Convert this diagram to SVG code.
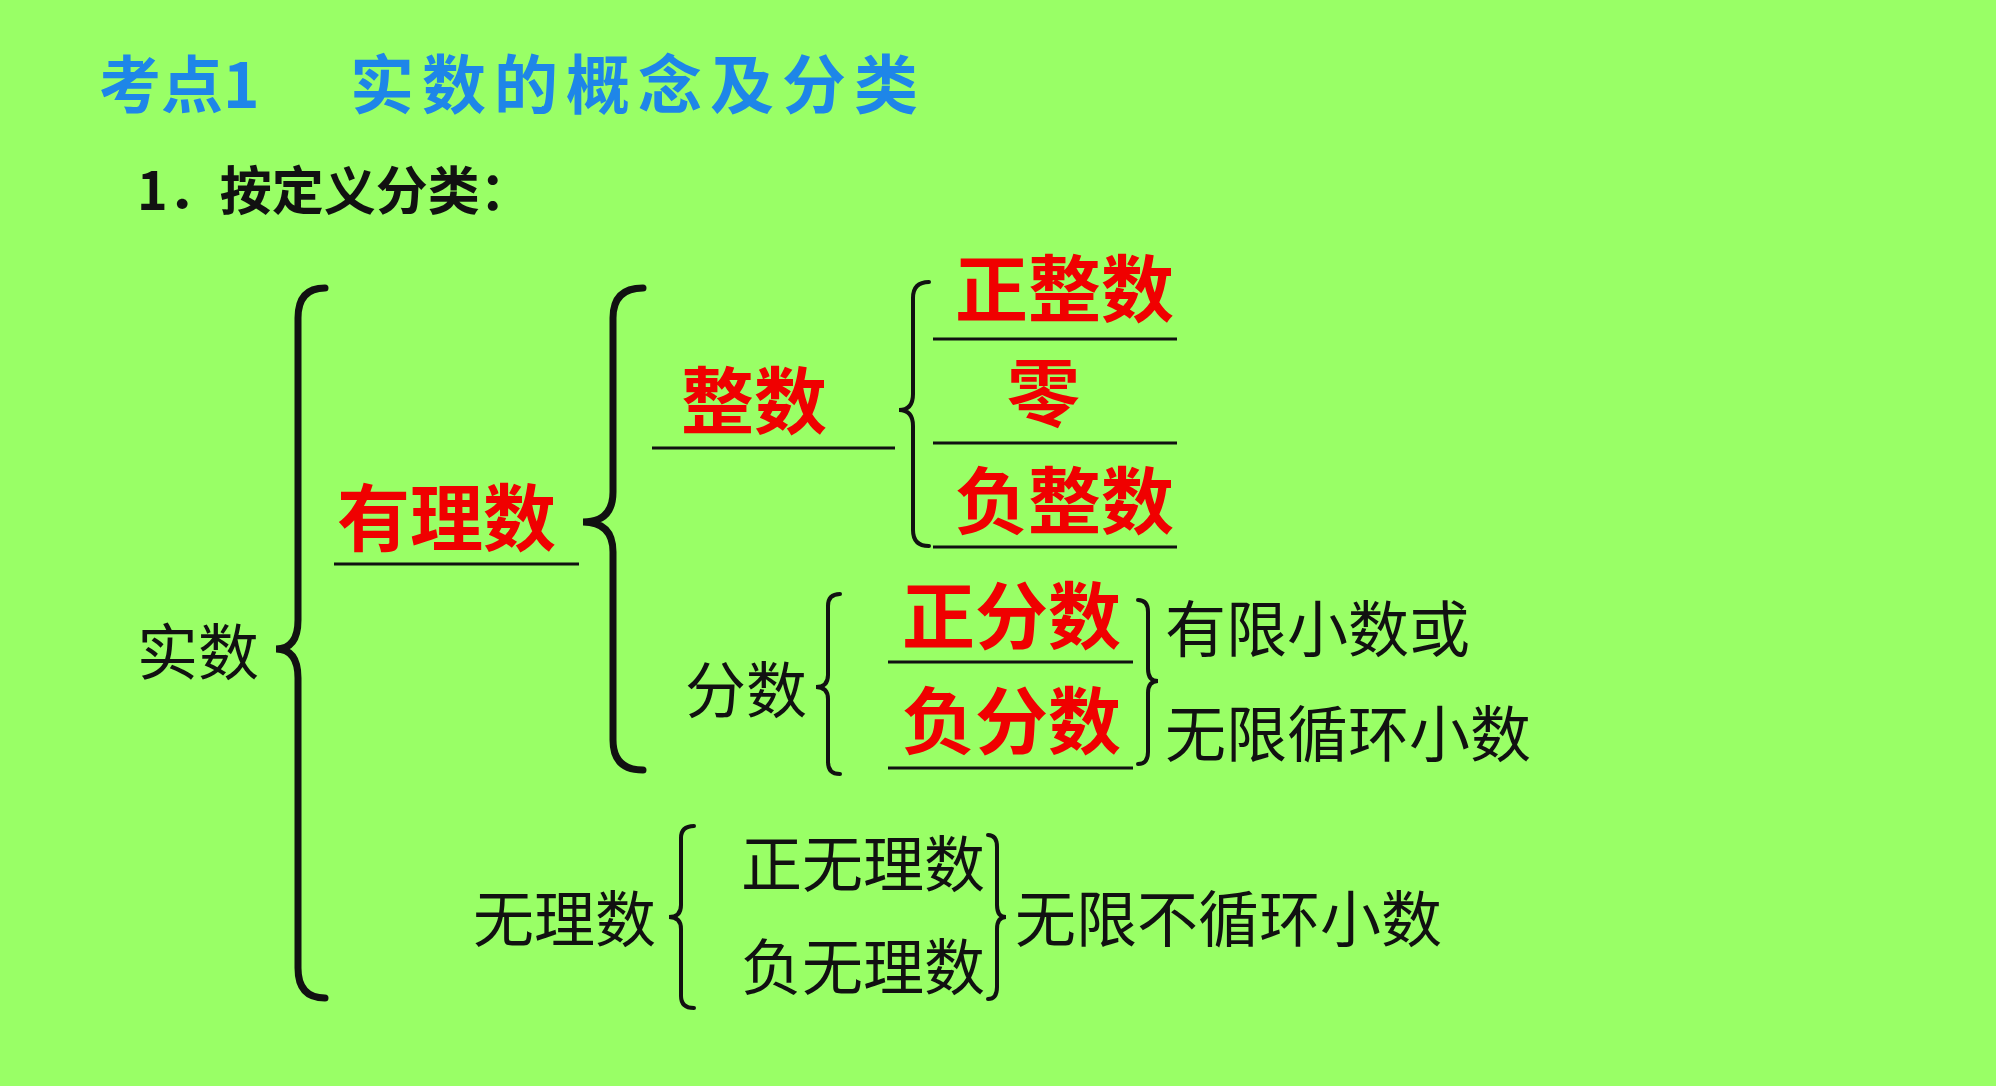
<svg xmlns="http://www.w3.org/2000/svg" width="1996" height="1086" viewBox="0 0 1996 1086">
<style>
text{font-family:"Noto Sans CJK SC","Noto Sans",sans-serif}
.r{fill:#F00000;font-size:73px;font-weight:bold}
.k{fill:#111;font-size:61px}
.b{fill:none;stroke:#111;stroke-width:4;stroke-linecap:round}
.B{fill:none;stroke:#111;stroke-width:7;stroke-linecap:round}
.u{stroke:#111;stroke-width:3}
</style>
<rect width="1996" height="1086" fill="#99FF66"/>
<text x="99" y="108" font-size="62" font-weight="bold" fill="#1E86E8">考点1</text>
<text x="350" y="108" font-size="64" font-weight="bold" letter-spacing="8" fill="#1E86E8">实数的概念及分类</text>
<text x="137" y="210" font-size="52" font-weight="bold" fill="#111">1．按定义分类：</text>
<g id="connectors">
<path class="B" d="M325 288 Q298 288 298 318 L298 620 Q298 649 276 649 Q298 649 298 678 L298 968 Q298 998 325 998"/>
<path class="B" d="M643 288 Q613 288 613 318 L613 492 Q613 522 583 522 Q613 522 613 552 L613 740 Q613 770 643 770"/>
<path class="b" d="M929 282 Q913 282 913 298 L913 394 Q913 410 899 410 Q913 410 913 426 L913 530 Q913 546 929 546"/>
<path class="b" d="M840 594 Q828 594 828 606 L828 675 Q828 687 816 687 Q828 687 828 699 L828 762 Q828 774 840 774"/>
<path class="b" d="M1138 600 Q1148 600 1148 612 L1148 669 Q1148 681 1158 681 Q1148 681 1148 693 L1148 752 Q1148 764 1138 764"/>
<path class="b" d="M694 826 Q681 826 681 838 L681 905 Q681 917 669 917 Q681 917 681 929 L681 996 Q681 1008 694 1008"/>
<path class="b" d="M988 835 Q997 835 997 847 L997 905 Q997 917 1006 917 Q997 917 997 929 L997 987 Q997 999 988 999"/>
<line class="u" x1="334" y1="564" x2="579" y2="564"/>
<line class="u" x1="652" y1="448" x2="895" y2="448"/>
<line class="u" x1="933" y1="339" x2="1177" y2="339"/>
<line class="u" x1="933" y1="443" x2="1177" y2="443"/>
<line class="u" x1="933" y1="547" x2="1177" y2="547"/>
<line class="u" x1="888" y1="662" x2="1133" y2="662"/>
<line class="u" x1="888" y1="768" x2="1133" y2="768"/>
</g>
<g id="shishu"><text class="k" x="137" y="675">实数</text></g>
<g id="youlishu"><text class="r" x="337" y="545">有理数</text></g>
<g id="zhengshu"><text class="r" x="681" y="428">整数</text></g>
<g id="zhengzhengshu"><text class="r" x="955" y="316">正整数</text></g>
<g id="ling"><text class="r" x="1007" y="420">零</text></g>
<g id="fuzhengshu"><text class="r" x="955" y="528">负整数</text></g>
<g id="fenshu"><text class="k" x="685" y="713">分数</text></g>
<g id="zhengfenshu"><text class="r" x="902" y="643">正分数</text></g>
<g id="fufenshu"><text class="r" x="902" y="748">负分数</text></g>
<g id="youxian"><text class="k" x="1165" y="652">有限小数或</text><text class="k" x="1165" y="757">无限循环小数</text></g>
<g id="wulishu"><text class="k" x="473" y="942">无理数</text></g>
<g id="zhengwulishu"><text class="k" x="741" y="887">正无理数</text></g>
<g id="fuwulishu"><text class="k" x="741" y="990">负无理数</text></g>
<g id="wuxianbuxunhuan"><text class="k" x="1015" y="942">无限不循环小数</text></g>
</svg>
